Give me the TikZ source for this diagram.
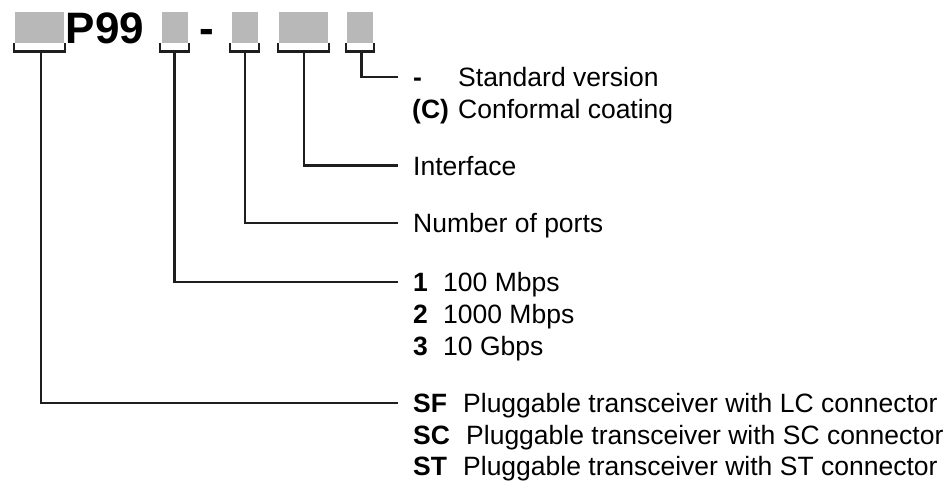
\documentclass[tikz,border=0pt]{standalone}
\usepackage{fontspec}
\setmainfont{Liberation Sans}
\definecolor{boxgray}{HTML}{B8B8B8}
\definecolor{ink}{HTML}{1E1E1E}
\begin{document}
\begin{tikzpicture}[x=1pt,y=-1pt,
  box/.style={fill=boxgray,draw=none,inner sep=0pt,minimum height=31pt},
  conn/.style={draw=ink,line width=2.3pt,line cap=butt,line join=miter},
  big/.style={inner sep=0pt,anchor=base west,font=\fontsize{44}{50}\selectfont\bfseries},
  key/.style={inner sep=0pt,anchor=base west,font=\fontsize{26.5}{31}\selectfont\bfseries},
  lab/.style={inner sep=0pt,anchor=base west,font=\fontsize{26.5}{31}\selectfont}]
\useasboundingbox (0,0) rectangle (952,482);
% code boxes
\node[box,minimum width=49pt] (b1) at (39.5,27.5) {};
\node[big] (p99) at (65.5,43) {P99};
\node[box,minimum width=26pt] (b2) at (175,27.5) {};
\node[big] (dash) at (199.5,43) {-};
\node[box,minimum width=26pt] (b3) at (245,27.5) {};
\node[box,minimum width=49pt] (b4) at (303.5,27.5) {};
\node[box,minimum width=26pt] (b5) at (360,27.5) {};
% brackets
\draw[conn] (14,43) -- (14,51.5) -- (65,51.5) -- (65,43);
\draw[conn] (160,43) -- (160,51.5) -- (189,51.5) -- (189,43);
\draw[conn] (230,43) -- (230,51.5) -- (259,51.5) -- (259,43);
\draw[conn] (278,43) -- (278,51.5) -- (329,51.5) -- (329,43);
\draw[conn] (346,43) -- (346,51.5) -- (374,51.5) -- (374,43);
% stem start points
\coordinate (k1) at (41,51.5);
\coordinate (k2) at (174.5,51.5);
\coordinate (k3) at (245,51.5);
\coordinate (k4) at (304,51.5);
\coordinate (k5) at (361.5,51.5);
% connector ends
\coordinate (e5) at (398,77);
\coordinate (e4) at (398,165.5);
\coordinate (e3) at (398,223);
\coordinate (e2) at (398,282);
\coordinate (e1) at (398,403);
\draw[conn] (k5) |- (e5);
\draw[conn] (k4) |- (e4);
\draw[conn] (k3) |- (e3);
\draw[conn] (k2) |- (e2);
\draw[conn] (k1) |- (e1);
% version
\node[key] (v1k) at (413,86.5) {-};
\node[lab] (v1) at (458,86.5) {Standard version};
\node[key] (v2k) at (412,118) {(C)};
\node[lab] (v2) at (458,118) {Conformal coating};
% interface, ports
\node[lab] (ifc) at (413,175) {Interface};
\node[lab] (ports) at (413,232.5) {Number of ports};
% speeds
\node[key] (s1k) at (413,291.5) {1};
\node[lab] (s1) at (443,291.5) {100 Mbps};
\node[key] (s2k) at (413,323.5) {2};
\node[lab] (s2) at (443,323.5) {1000 Mbps};
\node[key] (s3k) at (413,355.5) {3};
\node[lab] (s3) at (443,355.5) {10 Gbps};
% types
\node[key] (t1k) at (413,412.5) {SF};
\node[lab] (t1) at (463,412.5) {Pluggable transceiver with LC connector};
\node[key] (t2k) at (413,444) {SC};
\node[lab] (t2) at (466,444) {Pluggable transceiver with SC connector};
\node[key] (t3k) at (413,475.5) {ST};
\node[lab] (t3) at (463,475.5) {Pluggable transceiver with ST connector};
\end{tikzpicture}
\end{document}
